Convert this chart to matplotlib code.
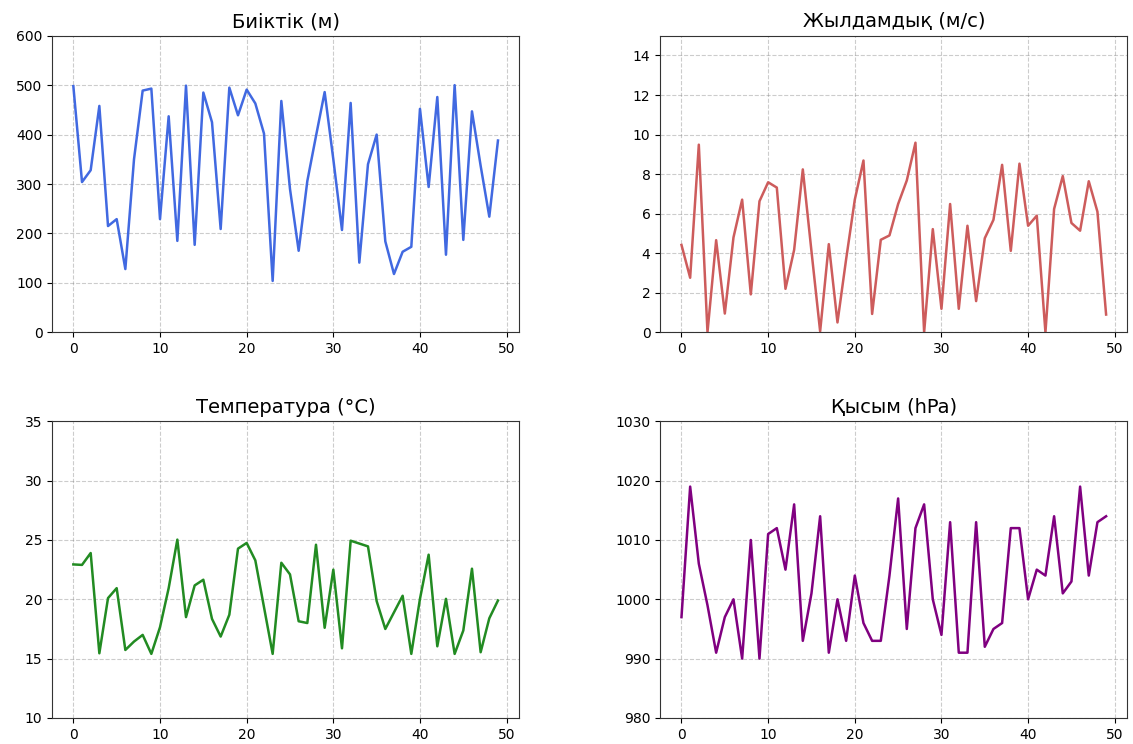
import matplotlib
matplotlib.use("Agg")
import matplotlib.pyplot as plt
import numpy as np

t = np.arange(50)

altitude = [498, 304, 328, 458, 215, 229, 128, 350, 489, 493,
            229, 437, 185, 499, 177, 485, 425, 209, 495, 439,
            491, 463, 402, 104, 468, 290, 165, 306, 397, 486,
            350, 207, 464, 141, 340, 400, 184, 118, 163, 173,
            452, 294, 476, 157, 500, 187, 447, 337, 234, 388]

speed = [4.42, 2.76, 9.49, 0.0, 4.66, 0.95, 4.8, 6.71, 1.92, 6.63,
         7.59, 7.32, 2.2, 4.17, 8.24, 4.1, 0.05, 4.46, 0.5, 3.7,
         6.71, 8.69, 0.93, 4.68, 4.9, 6.49, 7.68, 9.59, 0.0, 5.22,
         1.19, 6.49, 1.19, 5.39, 1.58, 4.76, 5.69, 8.47, 4.12, 8.53,
         5.39, 5.9, 0.0, 6.24, 7.9, 5.53, 5.14, 7.64, 6.1, 0.9]

temperature = [22.94, 22.9, 23.9, 15.45, 20.1, 20.94, 15.73, 16.44, 17.0, 15.4,
               17.65, 20.94, 25.03, 18.5, 21.17, 21.65, 18.35, 16.86, 18.7, 24.27,
               24.75, 23.28, 19.34, 15.4, 23.08, 22.1, 18.15, 18.0, 24.6, 17.6,
               22.5, 15.87, 24.94, 24.7, 24.46, 19.85, 17.5, 18.9, 20.3, 15.4,
               20.04, 23.76, 16.04, 20.04, 15.4, 17.37, 22.58, 15.54, 18.4, 19.9]

pressure = [997, 1019, 1006, 999, 991, 997, 1000, 990, 1010, 990,
            1011, 1012, 1005, 1016, 993, 1001, 1014, 991, 1000, 993,
            1004, 996, 993, 993, 1004, 1017, 995, 1012, 1016, 1000,
            994, 1013, 991, 991, 1013, 992, 995, 996, 1012, 1012,
            1000, 1005, 1004, 1014, 1001, 1003, 1019, 1004, 1013, 1014]

panels = [
    (altitude, 'Биіктік (м)', 'royalblue', (0, 600)),
    (speed, 'Жылдамдық (м/с)', 'indianred', (0, 15)),
    (temperature, 'Температура (°C)', 'forestgreen', (10, 35)),
    (pressure, 'Қысым (hPa)', 'purple', (980, 1030)),
]

fig, axes = plt.subplots(2, 2, figsize=(11.33, 7.44), dpi=100)
plt.subplots_adjust(left=0.046, right=0.995, top=0.952, bottom=0.035,
                    wspace=0.302, hspace=0.30)

for ax, (vals, title, color, ylim) in zip(axes.flat, panels):
    ax.plot(t, vals, color=color, linewidth=1.8)
    ax.set_title(title, fontsize=14)
    ax.set_ylim(*ylim)
    ax.grid(True, linestyle='--', color='gray', alpha=0.4)
    for s in ax.spines.values():
        s.set_color('#333333')

axes[0, 1].set_yticks(np.arange(0, 15, 2))

fig.savefig('out.png')
